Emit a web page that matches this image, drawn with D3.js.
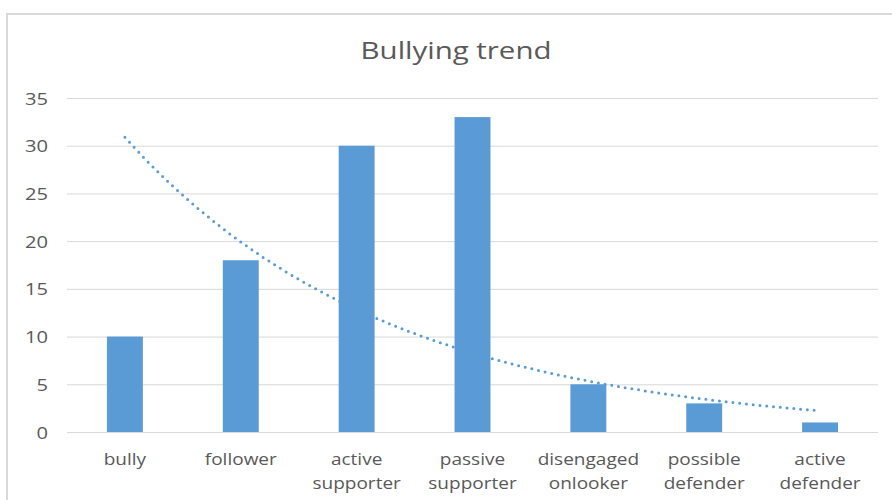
<!DOCTYPE html>
<html>
<head>
<meta charset="utf-8">
<script src="https://cdn.jsdelivr.net/npm/d3@7"></script>
<style>
    body { margin: 0; background: #fff; }
    text { font-family: "Open Sans", sans-serif; fill: #595959; }
    .grid line { stroke: #d9d9d9; stroke-width: 1; }
    .grid .domain { display: none; }
</style>
</head>
<body>
<div id="chart"></div>
<script>
const categories = ["bully", "follower", "active supporter", "passive supporter", "disengaged onlooker", "possible defender", "active defender"];
const values = [10, 18, 30, 33, 5, 3, 1];
const yTicks = [0, 5, 10, 15, 20, 25, 30, 35];
const titleText = "Bullying trend";

const W = 892, H = 500;
const plot = { left: 67, right: 878, top: 98, bottom: 432 };
const barColor = "#5b9bd5";
const stretch = 1.22;

// exponential trendline, same as the spreadsheet one: least squares on ln(y)
function expTrend(ys) {
    let xs = ys.map((d, i) => i + 1);
    let ln = ys.map(d => Math.log(d));
    let mx = d3.mean(xs), my = d3.mean(ln);
    let sxy = d3.sum(xs, (x, i) => (x - mx) * (ln[i] - my));
    let sxx = d3.sum(xs, x => (x - mx) * (x - mx));
    let b = sxy / sxx;
    let a = Math.exp(my - b * mx);
    return x => a * Math.exp(b * x);
}

let svg = d3.select("#chart").append("svg")
    .attr("width", W)
    .attr("height", H);

svg.append("rect")
    .attr("x", 7)
    .attr("y", 14)
    .attr("width", 920)
    .attr("height", 520)
    .attr("fill", "#fff")
    .attr("stroke", "#d9d9d9")
    .attr("stroke-width", 2);

svg.append("text")
    .attr("transform", `translate(456, 59) scale(1.28, 1)`)
    .attr("text-anchor", "middle")
    .style("font-size", "23px")
    .text(titleText);

let x = d3.scaleBand()
    .domain(categories)
    .range([plot.left, plot.right])
    .paddingInner(0.69)
    .paddingOuter(0.345);

let y = d3.scaleLinear()
    .domain([0, 35])
    .range([plot.bottom, plot.top]);

svg.append("g")
    .attr("class", "grid")
    .attr("transform", `translate(${ plot.left }, 0)`)
    .call(d3.axisLeft(y).tickValues(yTicks).tickSize(-(plot.right - plot.left)).tickFormat(""));

let yAxis = svg.append("g")
    .attr("transform", `translate(${ plot.left }, 0)`)
    .call(d3.axisLeft(y).tickValues(yTicks).tickSize(0).tickPadding(19));
yAxis.select(".domain").remove();
yAxis.selectAll("text")
    .attr("x", null)
    .attr("dy", null)
    .attr("fill", null)
    .attr("transform", `translate(-19, 6) scale(${ stretch }, 1)`)
    .style("font-size", "16.5px");

svg.selectAll("rect.bar")
    .data(values)
    .enter()
    .append("rect")
        .attr("class", "bar")
        .attr("x", (d, i) => x(categories[i]))
        .attr("y", d => y(d))
        .attr("width", x.bandwidth())
        .attr("height", d => y(0) - y(d))
        .attr("fill", barColor);

let trend = expTrend(values);
let pts = d3.range(0, 6.001, 0.1).map(t => [t, trend(t + 1)]);
let cx = t => x(categories[0]) + x.bandwidth() / 2 + t * x.step();

svg.append("path")
    .datum(pts)
    .attr("fill", "none")
    .attr("stroke", barColor)
    .attr("stroke-width", 3)
    .attr("stroke-linecap", "round")
    .attr("stroke-dasharray", "0 6.8")
    .attr("d", d3.line().x(d => cx(d[0])).y(d => y(d[1])));

let xAxis = svg.append("g")
    .attr("transform", `translate(0, ${ plot.bottom })`)
    .call(d3.axisBottom(x).tickSize(0).tickFormat(""));
xAxis.select(".domain").remove();

xAxis.selectAll(".tick").each(function(name) {
    let t = d3.select(this).append("text")
        .attr("text-anchor", "middle")
        .attr("transform", `translate(0, 33) scale(1.12, 1)`)
        .style("font-size", "17px");
    name.split(" ").forEach((w, i) => {
        t.append("tspan")
            .attr("x", 0)
            .attr("y", i * 24)
            .text(w);
    });
});
</script>
</body>
</html>
